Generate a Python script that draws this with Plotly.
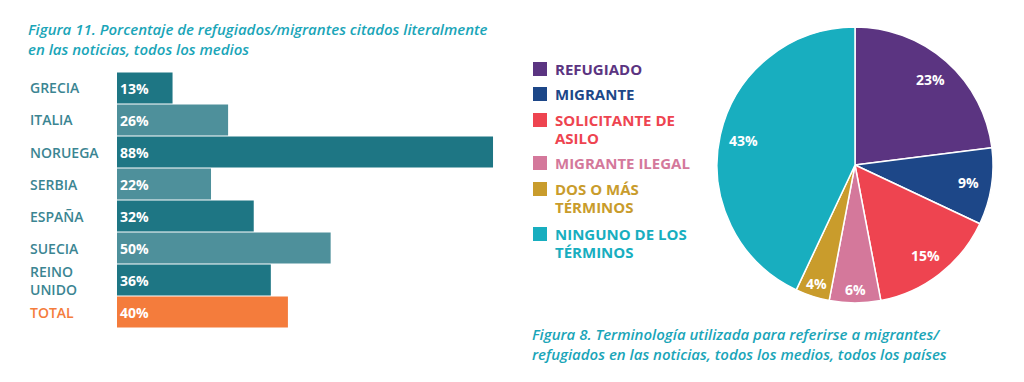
import math
import plotly.graph_objects as go

# ---- data ----
countries = ["GRECIA", "ITALIA", "NORUEGA", "SERBIA", "ESPAÑA", "SUECIA", "REINO<br>UNIDO", "TOTAL"]
country_values = [13, 26, 88, 22, 32, 50, 36, 40]
bar_colors = ["#1e7684", "#4e909b", "#1e7684", "#4e909b", "#1e7684", "#4e909b", "#1e7684", "#f47c3c"]
label_colors = ["#3b8592"] * 7 + ["#f47c3c"]

terms = ["REFUGIADO", "MIGRANTE", "SOLICITANTE DE<br>ASILO", "MIGRANTE ILEGAL",
         "DOS O MÁS<br>TÉRMINOS", "NINGUNO DE LOS<br>TÉRMINOS"]
term_values = [23, 9, 15, 6, 4, 43]
term_colors = ["#5b3481", "#1d4788", "#ee4450", "#d4789b", "#c99c2c", "#18aebf"]

title_left = "Figura 11. Porcentaje de refugiados/migrantes citados literalmente<br>en las noticias, todos los medios"
title_right = "Figura 8. Terminología utilizada para referirse a migrantes/<br>refugiados en las noticias, todos los medios, todos los países"

W, H = 1024, 382
FONT = "Open Sans"
TEAL_T = "#1aa5b8"

# pie geometry (pixels)
PX0, PX1, PY0, PY1 = 717, 993, 26, 304
CX, CY = (PX0 + PX1) / 2, (PY0 + PY1) / 2
R = (PX1 - PX0) / 2

fig = go.Figure()

fig.add_trace(go.Bar(
    x=country_values, y=list(range(len(countries))), orientation="h",
    marker=dict(color=bar_colors, line=dict(width=0)),
    text=[f"{v}%" for v in country_values], textposition="inside",
    insidetextanchor="start",
    textfont=dict(family=FONT, size=14, color="white", weight=700),
    xaxis="x", yaxis="y", showlegend=False, hoverinfo="skip",
))

fig.add_trace(go.Pie(
    labels=terms, values=term_values, sort=False, direction="clockwise", rotation=0,
    marker=dict(colors=term_colors, line=dict(color="white", width=1.5)),
    textinfo="none",
    domain=dict(x=[PX0 / W, PX1 / W], y=[1 - PY1 / H, 1 - PY0 / H]),
    showlegend=False, hoverinfo="label+percent",
))

annotations = []
shapes = []

# category labels
for i, (c, col) in enumerate(zip(countries, label_colors)):
    annotations.append(dict(
        x=28 / W, xref="paper", xanchor="left", y=i, yref="y", yanchor="middle",
        text=c, showarrow=False, align="left",
        font=dict(family=FONT, size=14, color=col, weight=600),
    ))

# titles
annotations.append(dict(
    x=26 / W, xref="paper", xanchor="left", y=1 - 39 / H, yref="paper",
    yanchor="middle", text=f"<i>{title_left}</i>", showarrow=False, align="left",
    font=dict(family=FONT, size=15, color=TEAL_T, weight=600),
))
annotations.append(dict(
    x=530 / W, xref="paper", xanchor="left", y=1 - 344 / H, yref="paper",
    yanchor="middle", text=f"<i>{title_right}</i>", showarrow=False, align="left",
    font=dict(family=FONT, size=15, color=TEAL_T, weight=600),
))

# pie percentage labels placed along each slice's mid-angle
total = sum(term_values)
cum = 0
for v in term_values:
    mid = (cum + v / 2) / total * 2 * math.pi
    cum += v
    rr = R * (0.83 if v >= 8 else 0.9)
    px = CX + rr * math.sin(mid)
    py = CY - rr * math.cos(mid)
    annotations.append(dict(
        x=px / W, xref="paper", y=1 - py / H, yref="paper",
        xanchor="center", yanchor="middle", text=f"{v}%", showarrow=False,
        font=dict(family=FONT, size=14, color="white", weight=700),
    ))

# custom legend
legend_rows = [69, 94, 120, 163, 189, 234]
for t, c, yy in zip(terms, term_colors, legend_rows):
    shapes.append(dict(type="rect", xref="paper", yref="paper",
                       x0=533 / W, x1=547 / W, y0=1 - (yy + 7) / H, y1=1 - (yy - 7) / H,
                       fillcolor=c, line=dict(width=0)))
    lines = t.split("<br>")
    for k, ln in enumerate(lines):
        annotations.append(dict(
            x=553 / W, xref="paper", xanchor="left", y=1 - (yy + 18 * k) / H, yref="paper",
            yanchor="middle", text=ln, showarrow=False, align="left",
            font=dict(family=FONT, size=15, color=c, weight=700),
        ))

fig.update_layout(
    width=W, height=H,
    margin=dict(l=0, r=0, t=0, b=0),
    paper_bgcolor="white", plot_bgcolor="white",
    bargap=0.03,
    xaxis=dict(domain=[117 / W, (117 + 90 * 4.273) / W], range=[0, 90],
               visible=False, fixedrange=True),
    yaxis=dict(domain=[1 - 328 / H, 1 - 72 / H], range=[7.5, -0.5],
               visible=False, fixedrange=True),
    annotations=annotations,
    shapes=shapes,
    showlegend=False,
)

fig.write_html("out.html", config={"displayModeBar": False},
               post_script="document.body.style.margin='0';")
